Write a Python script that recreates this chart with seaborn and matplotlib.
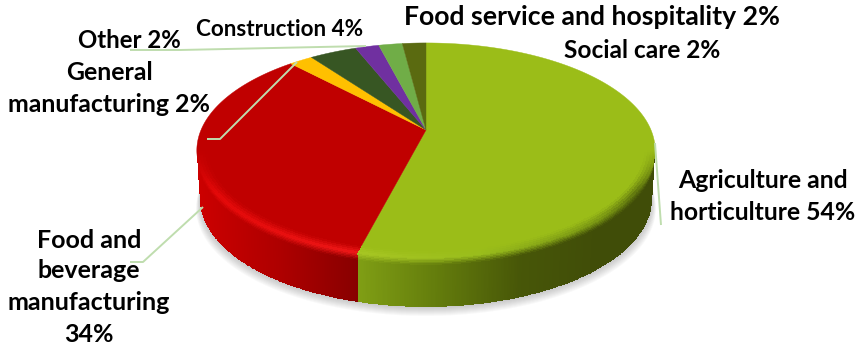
import numpy as np
import matplotlib
matplotlib.use("Agg")
import matplotlib.pyplot as plt
import seaborn as sns

sectors = ["Agriculture and horticulture", "Food and beverage manufacturing",
           "General manufacturing", "Construction", "Other",
           "Food service and hospitality", "Social care"]
shares = [54, 34, 2, 4, 2, 2, 2]

sns.set_theme(style="white", rc={"figure.facecolor": "white", "axes.facecolor": "white"})
plt.rcParams["font.family"] = ["Lato", "DejaVu Sans"]

face_colors = sns.color_palette(["#9BBD18", "#C00000", "#FFC000", "#375623",
                                 "#7030A0", "#70AD47", "#5A6A10"])

# Pie geometry on a pixel-sized canvas, with a projective tilt of the disc
CX, CY = 426.0, 130.0
A, B, K = 225.0, 103.6, 0.19
DEPTH = 49.0
BOTTOM_SHRINK = 0.985
WALL_FROM, WALL_TO = 101.0, 259.0  # silhouette points of the tilted disc


def rim(theta, r=1.0):
    """Project a disc point (clockwise angle from 12 o'clock, degrees) to the canvas."""
    t = np.radians(theta)
    u, v = r * np.sin(t), r * np.cos(t)
    den = 1 + K * v
    return CX + A * u / den, CY - B * v / den


def lerp_table(x, xs, rgb):
    rgb = np.asarray(rgb)
    return np.stack([np.interp(x, xs, rgb[:, i]) for i in range(3)], axis=-1)


fig, ax = plt.subplots(figsize=(8.56, 3.48), dpi=100)
ax.set_position([0, 0, 1, 1])
ax.set_xlim(0, 856)
ax.set_ylim(348, 0)
ax.axis("off")

edges = np.concatenate([[0], np.cumsum(shares)]) / np.sum(shares) * 360.0

# Soft drop shadow under the disc
theta_all = np.linspace(0, 360, 361)
sx, sy = rim(theta_all)
for off in np.arange(1, 10):
    ax.fill(CX + (sx - CX) * (BOTTOM_SHRINK + 0.002 * off), sy + DEPTH + off,
            color="#505050", alpha=0.035, lw=0, zorder=1)

# Wall shading: (x position, colour) stops for the two front sectors
wall_stops = {
    0: ([358, 430, 520, 600, 655],
        [(.50, .62, .08), (.40, .50, .05), (.28, .34, .03), (.25, .30, .03), (.25, .30, .03)]),
    1: ([197, 280, 358],
        [(.80, .0, .0), (.68, .0, .0), (.53, .0, .0)]),
}
bevel_stops = {
    0: ([358, 480, 600, 655],
        [(.66, .78, .14), (.60, .74, .11), (.46, .57, .07), (.30, .37, .04)]),
    1: ([197, 358],
        [(.90, .03, .03), (.95, .10, .10)]),
}

# Top faces
for i, color in enumerate(face_colors):
    th = np.linspace(edges[i], edges[i + 1], max(int(shares[i] * 8), 8))
    x, y = rim(th)
    ax.fill(np.r_[CX, x], np.r_[CY, y], color=color, lw=0.3, ec=color, zorder=1.5)

# Front wall plus the bevel band on the outer part of each top face
rows = np.concatenate([np.linspace(-0.10, 0, 5), np.linspace(0.02, 0.2, 7), np.linspace(0.3, 1, 8)])
for i in (0, 1):
    lo, hi = max(edges[i], WALL_FROM), min(edges[i + 1], WALL_TO)
    th = np.linspace(lo, hi, 260)
    top_x, top_y = rim(th)
    inner_x, inner_y = rim(th, 0.955)
    X, Y = [], []
    for d in rows:
        if d < 0:
            f = -d / 0.10
            X.append(top_x + (inner_x - top_x) * f)
            Y.append(top_y + (inner_y - top_y) * f)
        else:
            X.append(CX + (top_x - CX) * (1 + (BOTTOM_SHRINK - 1) * d))
            Y.append(top_y + DEPTH * d)
    X, Y = np.array(X), np.array(Y)

    tm = 0.5 * (th[:-1] + th[1:])
    xm = 0.5 * (top_x[:-1] + top_x[1:])
    wall = lerp_table(xm, *wall_stops[i])
    bevel = lerp_table(xm, *bevel_stops[i])
    top = np.broadcast_to(np.array(face_colors[i]), wall.shape)
    # The bevel band dies away towards the silhouette points
    fade = np.clip(np.minimum(tm - WALL_FROM, WALL_TO - tm) / 22.0, 0, 1)[:, None]
    mids = 0.5 * (rows[:-1] + rows[1:])
    C = np.zeros((len(mids), len(xm), 3))
    for j, d in enumerate(mids):
        if d < 0:
            w = (d + 0.10) / 0.10
            C[j] = top + (bevel - top) * (w * fade)
        else:
            w = min(d / 0.14, 1.0)
            start = top + (bevel - top) * fade
            C[j] = start + (wall - start) * w
    ax.pcolormesh(X, Y, C, shading="flat", antialiased=False, zorder=2)

# Leader lines
leader = "#BFDDAE"
for xs, ys in [((130, 180, 366), (50, 50, 46)),
               ((207, 220, 297), (139, 139, 62)),
               ((130, 143, 203), (262, 262, 207)),
               ((655, 661), (143, 225))]:
    ax.plot(xs, ys, color=leader, lw=1.4, zorder=3, solid_capstyle="butt")

# Data labels
label_style = dict(fontweight="bold", color="black", zorder=5, ha="center", va="center")
ax.text(592, 17, f"{sectors[5]} {shares[5]}%", fontsize=19.2, **label_style)
ax.text(642, 51, f"{sectors[6]} {shares[6]}%", fontsize=17.6, **label_style)
ax.text(280, 29, f"{sectors[3]} {shares[3]}%", fontsize=16.2, **label_style)
ax.text(129, 40, f"{sectors[4]} {shares[4]}%", fontsize=17.3, **label_style)
ax.text(109, 73, "General", fontsize=17.9, **label_style)
ax.text(109, 105, f"manufacturing {shares[2]}%", fontsize=17.9, **label_style)
for y, line in zip((240, 271, 303, 335), ("Food and", "beverage", "manufacturing", f"{shares[1]}%")):
    ax.text(89, y, line, fontsize=18.0, **label_style)
ax.text(763, 181, "Agriculture and", fontsize=17.8, **label_style)
ax.text(763, 212, f"horticulture {shares[0]}%", fontsize=17.8, **label_style)

fig.savefig("out.png", dpi=100, facecolor="white")
